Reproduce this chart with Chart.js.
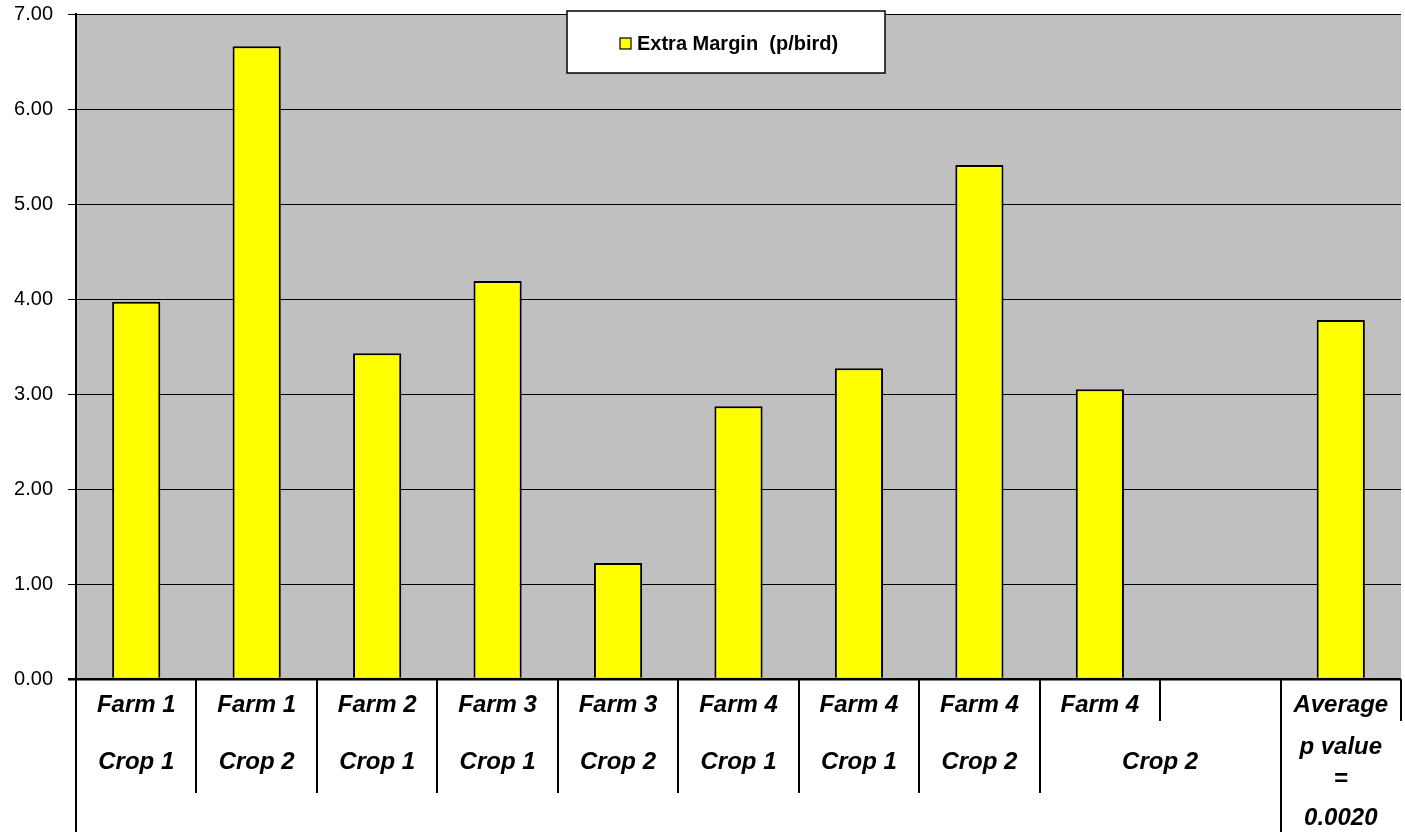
<!DOCTYPE html>
<html>
<head>
<meta charset="utf-8">
<script src="https://cdn.jsdelivr.net/npm/chart.js@4/dist/chart.umd.min.js"></script>
<style>
  html, body { margin: 0; padding: 0; background: #fff; }
  canvas { display: block; }
</style>
</head>
<body>
<canvas id="chart" width="1405" height="832"></canvas>
<script>
// --- dados ---
const categories = ['Farm 1 Crop 1', 'Farm 1 Crop 2', 'Farm 2 Crop 1', 'Farm 3 Crop 1', 'Farm 3 Crop 2',
  'Farm 4 Crop 1', 'Farm 4 Crop 1 ', 'Farm 4 Crop 2', 'Farm 4 Crop 2 ', '', 'Average'];
const extraMargin = [3.97, 6.66, 3.43, 4.19, 1.22, 2.87, 3.27, 5.41, 3.05, null, 3.78];
const farmRow = ['Farm 1', 'Farm 1', 'Farm 2', 'Farm 3', 'Farm 3', 'Farm 4', 'Farm 4', 'Farm 4', 'Farm 4', '', 'Average'];
// null = célula unida com a anterior
const cropRow = ['Crop 1', 'Crop 2', 'Crop 1', 'Crop 1', 'Crop 2', 'Crop 1', 'Crop 1', 'Crop 2', 'Crop 2', null, 'p value'];
const statLines = ['=', '0.0020'];
const seriesLabel = 'Extra Margin  (p/bird)';
const yTicks = [0, 1, 2, 3, 4, 5, 6, 7];

const FONT = "'Liberation Sans', Arial, sans-serif";

// fundo cinza da área do gráfico
const plotBackground = {
  id: 'plotBackground',
  beforeDraw(chart) {
    const { ctx, chartArea: a } = chart;
    ctx.save();
    ctx.fillStyle = '#C0C0C0';
    ctx.fillRect(a.left, a.top, a.right - a.left, a.bottom - a.top);
    ctx.strokeStyle = '#808080';
    ctx.lineWidth = 1;
    ctx.beginPath();
    ctx.moveTo(a.left, a.top + 0.5);
    ctx.lineTo(a.right, a.top + 0.5);
    ctx.stroke();
    ctx.restore();
  }
};

// eixo de categorias em dois níveis (estilo Excel)
const categoryTable = {
  id: 'categoryTable',
  afterDraw(chart) {
    const { ctx, chartArea: a, scales: { x } } = chart;
    const n = categories.length;
    const step = (a.right - a.left) / n;
    const edge = i => i < n ? x.getPixelForValue(i) - step / 2 : x.getPixelForValue(n - 1) + step / 2;

    ctx.save();
    ctx.strokeStyle = '#000';
    ctx.lineWidth = 2;
    for (let i = 0; i <= n; i++) {
      let bottom = 793;
      if (i === 0 || i === n - 1) bottom = chart.height;
      else if (i === n || cropRow[i] === null) bottom = 721;
      const px = Math.round(edge(i));
      ctx.beginPath();
      ctx.moveTo(px, a.bottom);
      ctx.lineTo(px, bottom);
      ctx.stroke();
    }

    ctx.fillStyle = '#000';
    ctx.font = `italic bold 24px ${FONT}`;
    ctx.textAlign = 'center';
    ctx.textBaseline = 'middle';
    farmRow.forEach((t, i) => {
      if (t) ctx.fillText(t, x.getPixelForValue(i), 705);
    });
    cropRow.forEach((t, i) => {
      if (t === null || !t) return;
      let end = i;
      while (cropRow[end + 1] === null) end++;
      const cx = (x.getPixelForValue(i) + x.getPixelForValue(end)) / 2;
      const last = i === n - 1;
      ctx.fillText(t, cx, last ? 747 : 762);
    });
    const lastX = x.getPixelForValue(n - 1);
    ctx.fillText(statLines[0], lastX, 779);
    ctx.fillText(statLines[1], lastX, 818);
    ctx.restore();
  }
};

// legenda em caixa branca
const boxLegend = {
  id: 'boxLegend',
  afterDraw(chart) {
    const { ctx } = chart;
    const ds = chart.data.datasets[0];
    ctx.save();
    ctx.fillStyle = '#fff';
    ctx.fillRect(567, 11, 318, 62);
    ctx.strokeStyle = '#000';
    ctx.lineWidth = 1.5;
    ctx.strokeRect(567, 11, 318, 62);
    ctx.fillStyle = ds.backgroundColor;
    ctx.fillRect(620, 38, 11, 11);
    ctx.lineWidth = 1.2;
    ctx.strokeRect(620, 38, 11, 11);
    ctx.fillStyle = '#000';
    ctx.font = `bold 20px ${FONT}`;
    ctx.textAlign = 'left';
    ctx.textBaseline = 'middle';
    ctx.fillText(ds.label, 637, 44);
    ctx.restore();
  }
};

new Chart(document.getElementById('chart'), {
  type: 'bar',
  data: {
    labels: categories,
    datasets: [{
      label: seriesLabel,
      data: extraMargin,
      backgroundColor: '#FFFF00',
      borderColor: '#000',
      borderWidth: 2,
      barPercentage: 0.4,
      categoryPercentage: 1.0
    }]
  },
  options: {
    responsive: false,
    animation: false,
    layout: { padding: { top: 14, right: 4, bottom: 153, left: 0 } },
    plugins: { legend: { display: false }, tooltip: { enabled: false } },
    scales: {
      x: { display: false },
      y: {
        min: 0,
        max: 7,
        afterFit(scale) {
          scale.width = 76;
          scale.paddingTop = 0;
          scale.paddingBottom = 0;
        },
        afterBuildTicks(scale) { scale.ticks = yTicks.map(v => ({ value: v })); },
        ticks: {
          color: '#000',
          padding: 15,
          font: { family: FONT, size: 20 },
          callback: v => Number(v).toFixed(2)
        },
        grid: {
          color: '#000',
          tickColor: '#000',
          tickLength: 8,
          lineWidth: c => (c.tick && c.tick.value === 0 ? 2.5 : 1)
        },
        border: { display: true, color: '#000', width: 2 }
      }
    }
  },
  plugins: [plotBackground, categoryTable, boxLegend]
});
</script>
</body>
</html>
